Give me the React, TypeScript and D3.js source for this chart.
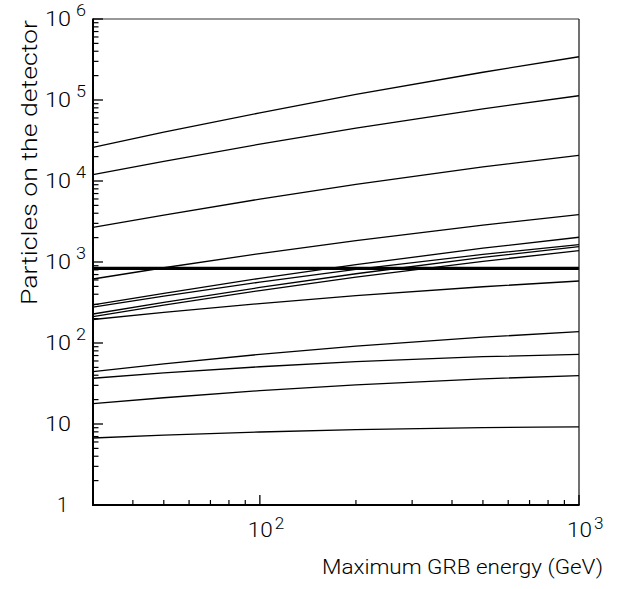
import React from "react";
import * as d3 from "d3";

const energies = [30, 50, 100, 200, 500, 1000];
const curve1 = [26000, 40000, 69500, 117000, 220000, 342000];
const curve2 = [12000, 17500, 28500, 44900, 77700, 113000];
const curve3 = [2670, 3800, 5980, 9060, 14900, 20800];
const curve4 = [617, 849, 1270, 1840, 2860, 3840];
const curve5 = [295, 411, 628, 928, 1480, 2020];
const curve6 = [278, 380, 564, 809, 1240, 1640];
const curve7 = [228, 318, 485, 716, 1140, 1550];
const curve8 = [212, 294, 444, 650, 1020, 1380];
const curve9 = [195, 239, 307, 384, 495, 583];
const curve10 = [44.2, 55.2, 72.4, 91.6, 118, 138];
const curve11 = [36.7, 42.7, 50.9, 58.9, 67.7, 72.3];
const curve12 = [17.8, 21.1, 25.8, 30.4, 36.1, 39.5];
const curve13 = [6.72, 7.28, 7.97, 8.54, 9.03, 9.19];
const threshold = 835;

const curves = [curve1, curve2, curve3, curve4, curve5, curve6, curve7, curve8, curve9, curve10, curve11, curve12, curve13];

const xDomain = [30, 1000];
const yDomain = [1, 1e6];
const xMajor = [100, 1000];
const xMajorExp = ["2", "3"];
const yMajor = [1, 10, 100, 1000, 10000, 100000, 1000000];
const yMajorBase = ["1", "10", "10", "10", "10", "10", "10"];
const yMajorExp = ["", "", "2", "3", "4", "5", "6"];
const xTitle = "Maximum GRB energy (GeV)";
const yTitle = "Particles on the detector";

const FONT = "Roboto, 'DejaVu Sans', sans-serif";

export default function App() {
  const W = 618, H = 589;
  const L = 93, R = 579, T = 19, B = 505;
  const x = d3.scaleLog().domain(xDomain).range([L, R]);
  const y = d3.scaleLog().domain(yDomain).range([B, T]);

  const line = d3
    .line<number>()
    .x((_, i) => x(energies[i]))
    .y((d) => y(d))
    .curve(d3.curveMonotoneX);

  const xMinor: number[] = [];
  [10, 100].forEach((dec) => {
    for (let k = 2; k <= 9; k++) {
      const v = k * dec;
      if (v > xDomain[0] && v < xDomain[1]) xMinor.push(v);
    }
  });
  const yMinor: number[] = [];
  [1, 10, 100, 1000, 10000, 100000].forEach((dec) => {
    for (let k = 2; k <= 9; k++) yMinor.push(k * dec);
  });

  return (
    <svg
      width={W}
      height={H}
      style={{ position: "absolute", left: 0, top: 0, background: "#fff" }}
      fontFamily={FONT}
    >
      <rect x={0} y={0} width={W} height={H} fill="#fff" />
      {/* data curves */}
      {curves.map((c, i) => (
        <path key={i} d={line(c) || ""} fill="none" stroke="#000" strokeWidth={1.3} />
      ))}
      {/* threshold */}
      <line x1={x(xDomain[0])} x2={x(xDomain[1])} y1={y(threshold)} y2={y(threshold)} stroke="#000" strokeWidth={3.2} />

      {/* frame */}
      <line x1={L} x2={R} y1={T} y2={T} stroke="#333" strokeWidth={1.2} />
      <line x1={R} x2={R} y1={T} y2={B} stroke="#111" strokeWidth={1.2} />
      <line x1={L} x2={L} y1={T - 0.5} y2={B + 1} stroke="#000" strokeWidth={2} />
      <line x1={L - 1} x2={R + 0.6} y1={B} y2={B} stroke="#000" strokeWidth={2} />

      {/* y ticks */}
      {yMajor.map((v) => (
        <line key={"ym" + v} x1={L} x2={L + 10} y1={y(v)} y2={y(v)} stroke="#000" strokeWidth={1.3} />
      ))}
      {yMinor.map((v) => (
        <line key={"yn" + v} x1={L} x2={L + 5.5} y1={y(v)} y2={y(v)} stroke="#000" strokeWidth={1.2} />
      ))}
      {/* x ticks */}
      {xMajor.map((v) => (
        <line key={"xm" + v} x1={x(v)} x2={x(v)} y1={B} y2={B - 10} stroke="#000" strokeWidth={1.3} />
      ))}
      {xMinor.map((v) => (
        <line key={"xn" + v} x1={x(v)} x2={x(v)} y1={B} y2={B - 5} stroke="#000" strokeWidth={1.2} />
      ))}

      {/* y labels */}
      {yMajor.map((v, i) => (
        <g key={"yl" + v}>
          {yMajorBase[i] === "10" ? (
            <text
              x={45}
              y={y(v) + 7}
              fontSize={20}
              fontWeight={300}
              fill="#000"
              textLength={26}
              lengthAdjust="spacingAndGlyphs"
            >
              {yMajorBase[i]}
            </text>
          ) : (
            <text x={68} y={y(v) + 7} textAnchor="end" fontSize={20} fontWeight={300} fill="#000">
              {yMajorBase[i]}
            </text>
          )}
          {yMajorExp[i] && (
            <text
              x={76}
              y={y(v) - 3}
              fontSize={16}
              fontWeight={300}
              fill="#000"
              textLength={10}
              lengthAdjust="spacingAndGlyphs"
            >
              {yMajorExp[i]}
            </text>
          )}
        </g>
      ))}

      {/* x labels */}
      {xMajor.map((v, i) => (
        <g key={"xl" + v}>
          <text
            x={x(v) - 12}
            y={537}
            fontSize={20}
            fontWeight={300}
            fill="#000"
            textLength={25}
            lengthAdjust="spacingAndGlyphs"
          >
            10
          </text>
          <text
            x={x(v) + 15}
            y={529}
            fontSize={16}
            fontWeight={300}
            fill="#000"
            textLength={9.5}
            lengthAdjust="spacingAndGlyphs"
          >
            {xMajorExp[i]}
          </text>
        </g>
      ))}

      {/* axis titles */}
      <text
        x={603}
        y={574}
        textAnchor="end"
        fontSize={20.5}
        fontWeight={300}
        fill="#000"
        textLength={281}
        lengthAdjust="spacingAndGlyphs"
      >
        {xTitle}
      </text>
      <text
        transform={`translate(37,${T + 1}) rotate(-90)`}
        textAnchor="end"
        fontSize={22}
        fontWeight={300}
        fill="#000"
        textLength={285}
        lengthAdjust="spacingAndGlyphs"
      >
        {yTitle}
      </text>
    </svg>
  );
}
